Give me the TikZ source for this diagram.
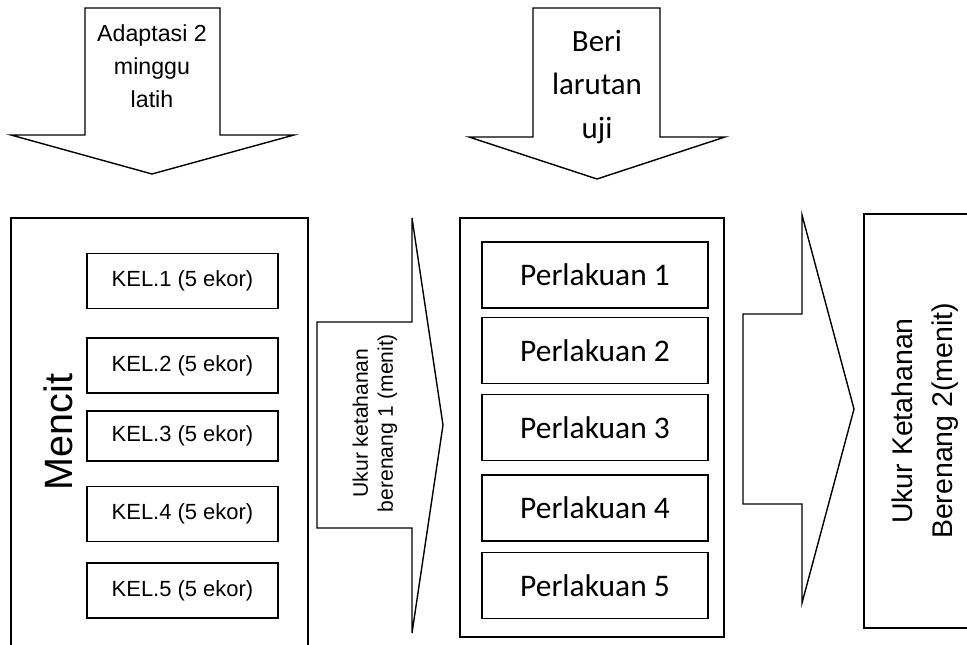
\documentclass[tikz,border=0pt]{standalone}
\usepackage{fontspec}
\setmainfont{Liberation Sans}
\newfontfamily\calibri{Carlito}
\usepackage{tikz}
\usetikzlibrary{positioning}
\tikzstyle{outerbox} = [draw=black, line width=0.8pt]
\tikzstyle{blockarrow} = [draw=black, line width=0.8pt, line join=miter]
\tikzstyle{kelbox} = [rectangle, minimum width=3.82cm, minimum height=1.1cm, text centered, draw=black, line width=0.8pt, font=\fontsize{12.5}{15}\selectfont]
\tikzstyle{treatbox} = [rectangle, minimum width=4.52cm, minimum height=1.32cm, text centered, draw=black, line width=0.8pt, font=\calibri\fontsize{17.9}{21}\selectfont]

\begin{document}
\begin{tikzpicture}[x=0.02cm, y=-0.02cm]
\useasboundingbox (0,0) rectangle (967,645);
\clip (0,0) rectangle (967,645);

% arrows from the top
\draw [blockarrow] (85,8) -- (220,8) -- (220,135) -- (294,135) -- (152,174) -- (11,135) -- (85,135) -- cycle;
\node (adapt) [align=center, font=\fontsize{13.2}{18.7}\selectfont] at (152,66) {Adaptasi 2\\minggu\\latih};

\draw [blockarrow] (533,8) -- (660,8) -- (660,137) -- (725,137) -- (597,179) -- (469,137) -- (533,137) -- cycle;
\node (beri) [align=center, font=\calibri\fontsize{17.6}{25}\selectfont] at (597,87) {Beri\\larutan\\uji};

% mencit
\draw [outerbox] (11,218) rectangle (308,670);
\node (mencit) [rotate=90, font=\fontsize{22.5}{27}\selectfont] at (58,432) {Mencit};

\node (kel1) [kelbox] at (182.5,281) {KEL.1 (5 ekor)};
\node (kel2) [kelbox] at (182.5,365.5) {KEL.2 (5 ekor)};
\node (kel3) [kelbox, minimum height=1cm] at (182.5,436) {KEL.3 (5 ekor)};
\node (kel4) [kelbox] at (182.5,514) {KEL.4 (5 ekor)};
\node (kel5) [kelbox] at (182.5,590.5) {KEL.5 (5 ekor)};

% first arrow to the right
\draw [blockarrow] (317,322) -- (412,322) -- (412,218) -- (443,425) -- (412,633) -- (412,528) -- (317,528) -- cycle;
\node (ukur1) [rotate=90, align=center, font=\fontsize{12}{14.2}\selectfont] at (375,423) {Ukur ketahanan\\berenang 1 (menit)};

% perlakuan
\draw [outerbox] (460,218) rectangle (724,637);
\node (p1) [treatbox] at (595,275) {Perlakuan 1};
\node (p2) [treatbox] at (595,350.5) {Perlakuan 2};
\node (p3) [treatbox] at (595,427.5) {Perlakuan 3};
\node (p4) [treatbox] at (595,508) {Perlakuan 4};
\node (p5) [treatbox] at (595,585.5) {Perlakuan 5};

% second arrow to the right
\draw [blockarrow] (743,314) -- (802,314) -- (802,215) -- (854,409) -- (802,603) -- (802,504) -- (743,504) -- cycle;

% result
\draw [outerbox] (864,214) rectangle (980,628);
\node (ukur2) [rotate=90, align=center, font=\fontsize{16.2}{22.7}\selectfont] at (925,421) {Ukur Ketahanan\\Berenang 2(menit)};
\end{tikzpicture}
\end{document}
